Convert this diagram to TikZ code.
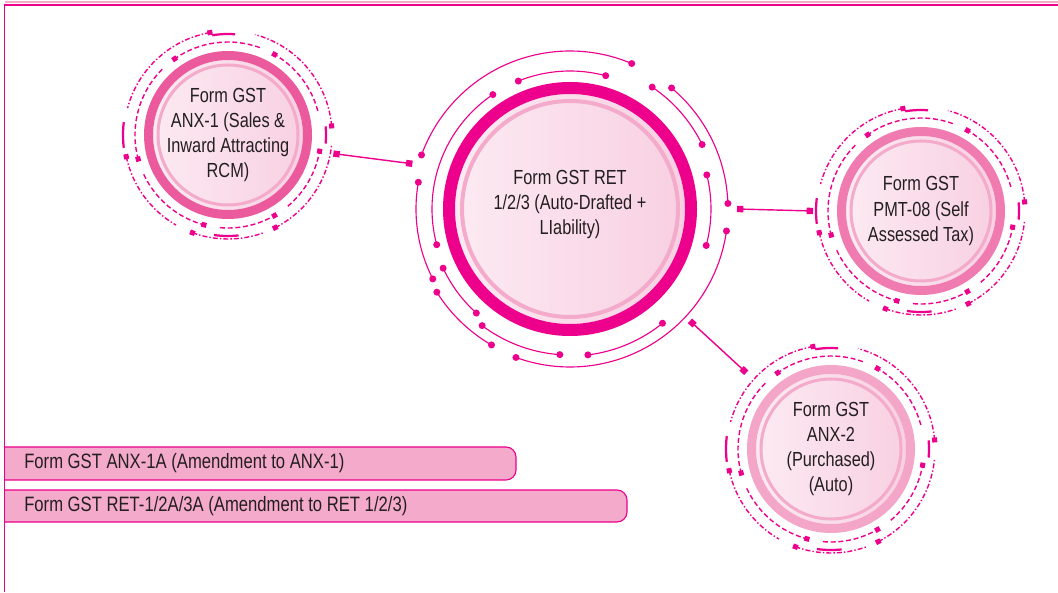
\documentclass[tikz,border=0pt]{standalone}
\usepackage{fontspec}
\setmainfont{Liberation Sans}[FakeStretch=0.8]
\usetikzlibrary{arrows.meta, calc}
\definecolor{hotpink}{HTML}{EC008C}
\definecolor{ringa}{HTML}{EA5A9D}
\definecolor{ringb}{HTML}{F07BB0}
\definecolor{ringc}{HTML}{F3A6C8}
\definecolor{thinring}{HTML}{F4AACB}
\definecolor{ballpink}{HTML}{F8D0E2}
\definecolor{ballpale}{HTML}{FCEAF2}
\definecolor{barpink}{HTML}{F4AACB}
\definecolor{inkcol}{HTML}{231F20}

% dashed rings and end marks round a small form
\newcommand{\smalldeco}[1]{%
  \begin{scope}[shift={(#1)}]
    \foreach \p/\q in {15/60, 70/125, 135/195, 205/255, 265/300, 310/350}{
      \draw[dashring] (\p:93) arc[start angle=\p, end angle=\q, radius=93];
      \fill[hotpink, shift={(\q:93)}, rotate=\q] (-2.5,-2.5) rectangle (2.5,2.5);
    }
    \foreach \p/\q in {5/75, 100/165, 192/240, 250/290, 297/355}{
      \draw[dotring] (\p:104) arc[start angle=\p, end angle=\q, radius=104];
      \fill[hotpink, shift={(\p:104)}, rotate=\p] (-2.5,-2.5) rectangle (2.5,2.5);
    }
    \foreach \r/\p/\q in {101/86/99, 101/262/276, 105/173/187, 98/-5/5}{
      \draw[hotpink, line width=1.6pt] (\p:\r) arc[start angle=\p, end angle=\q, radius=\r];
    }
  \end{scope}}

\begin{document}
\begin{tikzpicture}[x=0.025cm, y=0.025cm,
    ball/.style={circle, inner sep=0pt, align=center, text=inkcol,
                 font=\fontsize{14.5}{17.8}\selectfont,
                 shading=axis, left color=ballpale, middle color=white, right color=ballpink},
    bartext/.style={inner sep=0pt, anchor=west, text=inkcol, font=\fontsize{14.8}{17.8}\selectfont},
    barbox/.style={draw=hotpink, fill=barpink, line width=0.8pt, rounded corners=0.25cm},
    dashring/.style={hotpink, line width=1pt, dash pattern=on 3.5pt off 2pt},
    dotring/.style={hotpink, line width=1pt, dash pattern=on 3.5pt off 1.5pt on 1pt off 1.5pt},
    wire/.style={hotpink, line width=0.8pt},
    link/.style={hotpink, line width=1pt, {Square[length=4.5pt,width=4.5pt]}-{Square[length=4.5pt,width=4.5pt]}},
]
\useasboundingbox (0,0) rectangle (1058,592);

% frame
\draw[thinring, line width=0.8pt] (4.5,590) -- (1058,590);
\draw[hotpink, line width=1.4pt] (4.5,0) -- (4.5,587) -- (1058,587);

% ---------------------------------------------- forms
\node[ball, minimum size=5.75cm] (ret) at (570,383)
  {Form GST RET\\1/2/3 (Auto-Drafted +\\LIability)\\[-8pt]};
\draw[hotpink, line width=0.3cm] (ret.center) circle[radius=121];
\draw[thinring, line width=0.1cm] (ret.center) circle[radius=108];

\node[ball, minimum size=3.75cm] (anx1) at (228,457)
  {Form GST\\ANX-1 (Sales \&\\Inward Attracting\\RCM)};
\draw[ringa, line width=0.225cm] (anx1.center) circle[radius=79.5];
\draw[thinring, line width=0.075cm] (anx1.center) circle[radius=70];

\node[ball, minimum size=3.75cm] (pmt) at (921,381)
  {Form GST\\PMT-08 (Self\\Assessed Tax)};
\draw[ringb, line width=0.225cm] (pmt.center) circle[radius=79.5];
\draw[thinring, line width=0.075cm] (pmt.center) circle[radius=70];

\node[ball, minimum size=3.75cm] (anx2) at (831,143)
  {Form GST\\ANX-2\\(Purchased)\\(Auto)};
\draw[ringc, line width=0.225cm] (anx2.center) circle[radius=79.5];
\draw[thinring, line width=0.075cm] (anx2.center) circle[radius=70];

% ---------------------------------------------- circuit rings
\begin{scope}[shift={(ret)}]
  \foreach \r/\p/\q in {138/75/112, 138/124/195, 140/205/228, 146/233/266, 147/277/309,
                        141/-15/14, 147/26/56, 158/2/50, 158/67/160, 154/170/207,
                        157/212/240, 158/250/352}{
    \draw[wire] (\p:\r) arc[start angle=\p, end angle=\q, radius=\r];
    \fill[hotpink] (\p:\r) circle[radius=3.5] (\q:\r) circle[radius=3.5];
  }
\end{scope}
\smalldeco{anx1}
\smalldeco{pmt}
\smalldeco{anx2}

% ---------------------------------------------- links
\coordinate (anx1-out) at ($(anx1)+(-10:107)$);
\coordinate (ret-w) at ($(ret)+(164:164)$);
\coordinate (ret-e) at ($(ret)+(0:167)$);
\coordinate (ret-se) at ($(ret)+(-43:164)$);
\coordinate (pmt-in) at ($(pmt)+(180:108)$);
\coordinate (anx2-in) at ($(anx2)+(138:114)$);
\draw[link] (anx1-out) -- (ret-w);
\draw[link] (ret-e) -- (pmt-in);
\draw[link] (ret-se) -- (anx2-in);

% ---------------------------------------------- amendments
\draw[barbox] (5,145) -- (516,145) -- (516,112) -- (5,112);
\node[bartext] (amd-anx) at (24,128.5) {Form GST ANX-1A (Amendment to ANX-1)};
\draw[barbox] (5,102) -- (627,102) -- (627,70) -- (5,70);
\node[bartext] (amd-ret) at (24,86) {Form GST RET-1/2A/3A (Amendment to RET 1/2/3)};

\end{tikzpicture}
\end{document}
